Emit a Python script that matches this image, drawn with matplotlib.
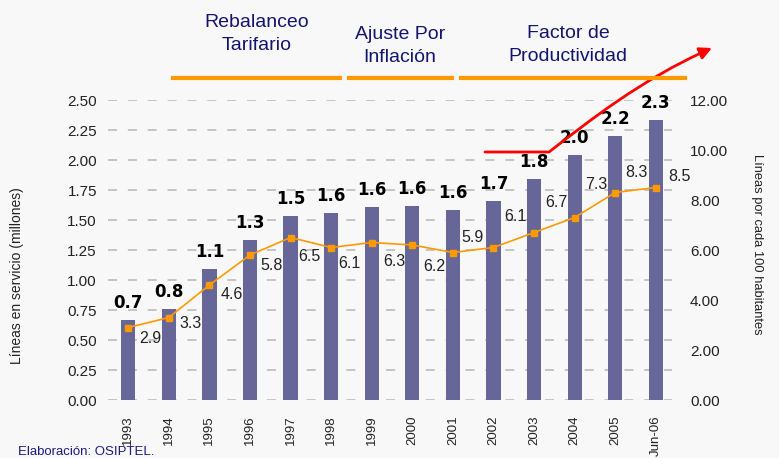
import matplotlib
matplotlib.use("Agg")
import matplotlib.pyplot as plt
from matplotlib.path import Path
from matplotlib.patches import FancyArrowPatch
from matplotlib.lines import Line2D

plt.rcParams['font.family'] = ['Liberation Sans', 'DejaVu Sans']

# ---- data ----
years = ["1993", "1994", "1995", "1996", "1997", "1998", "1999", "2000",
         "2001", "2002", "2003", "2004", "2005", "Jun-06"]
lineas_millones = [0.67, 0.76, 1.09, 1.33, 1.53, 1.56, 1.61, 1.62,
                   1.58, 1.66, 1.84, 2.04, 2.20, 2.33]
densidad = [2.9, 3.3, 4.6, 5.8, 6.5, 6.1, 6.3, 6.2, 5.9, 6.1, 6.7, 7.3, 8.3, 8.5]
left_ticks = [0.0, 0.25, 0.5, 0.75, 1.0, 1.25, 1.5, 1.75, 2.0, 2.25, 2.5]
right_ticks = [0, 2, 4, 6, 8, 10, 12]
etapas = ["Rebalanceo\nTarifario", "Ajuste Por\nInflación", "Factor de\nProductividad"]

# ---- style ----
W, H = 779, 458
bg = '#f8f8f8'
bar_color = '#666699'
orange = '#ff9900'
navy = '#14146e'
# label offsets (pixels) for the density labels
lab_off = [(22, -11), (22, -6), (22, -9), (22, -10), (19, -19), (18, -16), (23, -19),
           (22, -21), (20, 15), (22, 31), (22, 30), (22, 33), (21, 20), (24, 11)]

fig = plt.figure(figsize=(W / 100, H / 100), dpi=100, facecolor=bg)
ax = fig.add_axes([108 / W, 1 - 400 / H, (672 - 108) / W, 300 / H])
ax.set_facecolor(bg)
ax2 = ax.twinx()

x = list(range(len(years)))
ax.bar(x, lineas_millones, width=0.35, color=bar_color, zorder=2)
ax.set_xlim(-0.5, len(years) - 0.6)
ax.set_ylim(0, 2.5)
ax.set_yticks(left_ticks)
ax.set_yticklabels([f"{v:.2f}" for v in left_ticks])
ax.set_xticks(x)
ax.set_xticklabels(years, rotation=90, fontsize=9.5, color='#222222')
ax.tick_params(axis='x', length=0, pad=11)
ax.tick_params(axis='y', length=0, pad=8, labelsize=11, labelcolor='#222222')
for yv in left_ticks:
    ax.axhline(yv, color='#c0c0c0', lw=1.3, dashes=(5, 6), zorder=1)
for s in ax.spines.values():
    s.set_visible(False)

for xi, v in zip(x, lineas_millones):
    ax.annotate(f"{v:.1f}", (xi, v), xytext=(0, 17), textcoords='offset pixels',
                ha='center', va='center', fontsize=12, fontweight='bold',
                family='DejaVu Sans', color='black')

ax2.plot(x, densidad, color=orange, lw=1.2, marker='s', markersize=4,
         markerfacecolor=orange, markeredgecolor=orange, zorder=3)
ax2.set_ylim(0, 12)
ax2.set_yticks(right_ticks)
ax2.set_yticklabels([f"{v:.2f}" for v in right_ticks])
ax2.tick_params(axis='y', length=0, pad=13, labelsize=11, labelcolor='#222222')
for s in ax2.spines.values():
    s.set_visible(False)
for xi, v, (dx, dy) in zip(x, densidad, lab_off):
    ax2.annotate(f"{v:.1f}", (xi, v), xytext=(dx, dy), textcoords='offset pixels',
                 ha='center', va='center', fontsize=11.5, color='#222222')

# axis titles
fig.text(17 / W, 1 - 276 / H, "Líneas en servicio (millones)", rotation=90,
         ha='center', va='center', fontsize=10, color='#222222')
fig.text(757 / W, 1 - 244 / H, "Líneas por cada 100 habitantes", rotation=-90,
         ha='center', va='center', fontsize=9.3, color='#222222')

# stage headings
head_pos = [(257, 34), (400, 46), (568, 45)]
for t, (hx, hy) in zip(etapas, head_pos):
    fig.text(hx / W, 1 - hy / H, t, ha='center', va='center', fontsize=14,
             color=navy, linespacing=1.4)
for x0, x1 in [(173, 340), (349, 452), (461, 685)]:
    fig.add_artist(Line2D([x0 / W, x1 / W], [1 - 78 / H, 1 - 78 / H],
                          color=orange, lw=3, transform=fig.transFigure))

# red arrow
def fp(px, py):
    return (px / W, 1 - py / H)
verts = [fp(485, 152), fp(549, 152), fp(588, 122), fp(640, 80), fp(712, 48)]
codes = [Path.MOVETO, Path.LINETO, Path.CURVE4, Path.CURVE4, Path.CURVE4]
arrow = FancyArrowPatch(path=Path(verts, codes), arrowstyle='-|>', mutation_scale=18,
                        color='#ff0000', lw=2, transform=fig.transFigure)
fig.add_artist(arrow)

fig.text(18 / W, 1 - 452 / H, "Elaboración: OSIPTEL.", ha='left', va='center',
         fontsize=9.5, color='#1a1a80')

fig.savefig("out.png", dpi=100, facecolor=bg)
